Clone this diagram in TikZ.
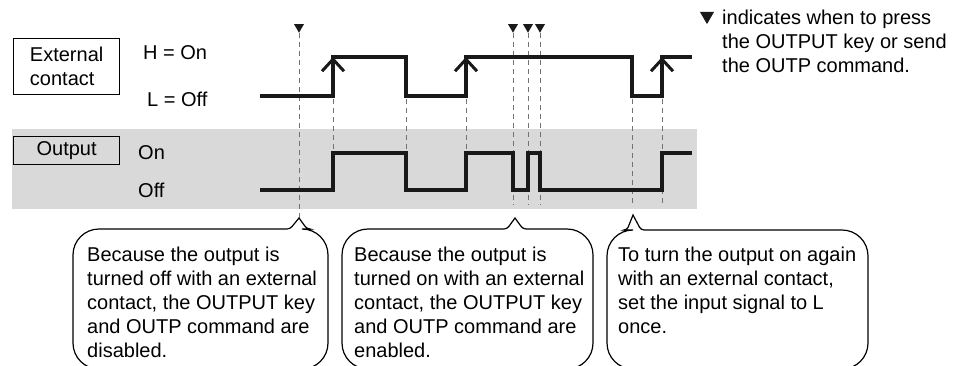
\documentclass[tikz,border=0pt]{standalone}
\usepackage{fontspec}
\setmainfont{Liberation Sans}
\usetikzlibrary{shapes.geometric,arrows.meta}

\tikzset{
  txt/.style={font=\fontsize{20}{24}\selectfont, inner sep=0pt},
  tagbox/.style={txt, draw, line width=1.3pt, minimum width=106pt, align=left},
  wave/.style={line width=3.6pt, line join=miter, black!90},
  riseup/.style={line width=3.2pt, black!90, -{Straight Barb[length=12pt,width=22pt,line width=3pt]}},
  guide/.style={black!55, line width=1pt, dash pattern=on 5pt off 4pt},
  cue/.style={regular polygon, regular polygon sides=3, shape border rotate=180,
    fill=black!90, inner sep=0pt, minimum size=11.5pt},
  bubble/.style={line width=1.2pt},
  note/.style={txt, align=left, anchor=north west}
}

\begin{document}
\begin{tikzpicture}[x=1pt, y=-1pt]
    \useasboundingbox (0,0) rectangle (954,365);
    % banda dell'uscita
    \fill[black!15] (12,129) rectangle (697,209);

    % etichette a sinistra
    \node[tagbox, minimum height=56pt, anchor=north west] (ext) at (13,38) {External\\contact};
    \node[tagbox, minimum height=28pt, anchor=north west, align=center] (out) at (13,136) {Output};
    \node[txt, anchor=west] (hon) at (143,53) {H = On};
    \node[txt, anchor=west] (loff) at (147,99) {L = Off};
    \node[txt, anchor=west] (on) at (138,153) {On};
    \node[txt, anchor=west] (off) at (138,190) {Off};

    % istanti di pressione
    \node[cue] (m1) at (299,27) {};
    \node[cue] (m2) at (513,27) {};
    \node[cue] (m3) at (528,27) {};
    \node[cue] (m4) at (540,27) {};

    % legenda
    \node[cue, minimum size=16.2pt] (key) at (707,16) {};
    \node[note] (keytext) at (722,9.5) {indicates when to press\\the OUTPUT key or send\\the OUTP command.};

    % punte dei fumetti
    \coordinate (tip1) at (299,218);
    \coordinate (tip2) at (515,218);
    \coordinate (tip3) at (633,215);

    % linee guida tratteggiate
    \draw[guide] (m1.south) -- (tip1);
    \draw[guide] (m2.south) -- (513,205);
    \draw[guide] (m3.south) -- (528,205);
    \draw[guide] (m4.south) -- (540,205);
    \foreach \x in {333,406,466}
        \draw[guide] (\x,99) -- (\x,151);
    \foreach \x in {632,662}
        \draw[guide] (\x,99) -- (\x,205);

    % contatto esterno
    \draw[wave] (260,96) -- (333,96) -- (333,57) -- (406,57) -- (406,96) -- (466,96)
        -- (466,57) -- (632,57) -- (632,96) -- (662,96) -- (662,57) -- (692,57);
    \foreach \x in {333,466,662}
        \draw[riseup] (\x,85) -- (\x,57);

    % uscita
    \draw[wave] (260,190) -- (333,190) -- (333,153) -- (406,153) -- (406,190) -- (466,190)
        -- (466,153) -- (513,153) -- (513,190) -- (528,190) -- (528,153) -- (540,153)
        -- (540,190) -- (662,190) -- (662,153) -- (692,153);

    % fumetti
    \draw[bubble] (tip1) [rounded corners=3pt] -- (307,229) [rounded corners=26pt] -- (328,229)
        -- (328,369) -- (73,369) -- (73,229) [rounded corners=3pt] -- (290,229) [sharp corners] -- cycle;
    \draw[bubble] (tip2) [rounded corners=3pt] -- (523,229) [rounded corners=26pt] -- (593,229)
        -- (593,369) -- (342,369) -- (342,229) [rounded corners=3pt] -- (507,229) [sharp corners] -- cycle;
    \draw[bubble] (tip3) [rounded corners=3pt] -- (641,230) [rounded corners=26pt] -- (868,230)
        -- (868,369) -- (607,369) -- (607,230) [rounded corners=3pt] -- (627,230) [sharp corners] -- cycle;

    \node[note] (n1) at (87,246.5) {Because the output is\\turned off with an external\\contact, the OUTPUT key\\and OUTP command are\\disabled.};
    \node[note] (n2) at (354,246.5) {Because the output is\\turned on with an external\\contact, the OUTPUT key\\and OUTP command are\\enabled.};
    \node[note] (n3) at (618,246.5) {To turn the output on again\\with an external contact,\\set the input signal to L\\once.};
\end{tikzpicture}
\end{document}
